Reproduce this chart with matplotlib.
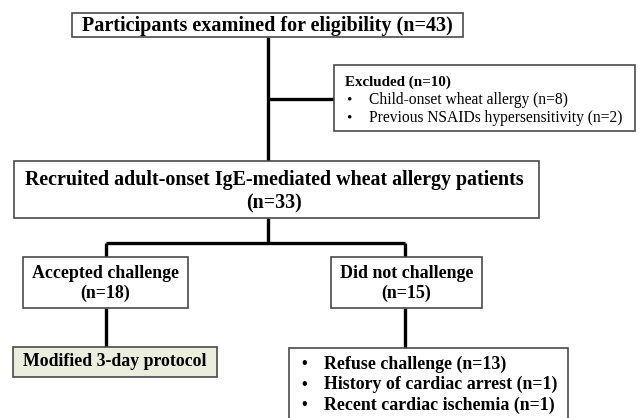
import matplotlib.pyplot as plt
from matplotlib.patches import Rectangle

# flowchart text
top_label = "Participants examined for eligibility (n=43)"
excl_title = "Excluded (n=10)"
excl_items = ["Child-onset wheat allergy (n=8)",
              "Previous NSAIDs hypersensitivity (n=2)"]
recruit_lines = ["Recruited adult-onset IgE-mediated wheat allergy patients", "(n=33)"]
accepted_lines = ["Accepted challenge", "(n=18)"]
declined_lines = ["Did not challenge", "(n=15)"]
protocol_label = "Modified 3-day protocol"
declined_items = ["Refuse challenge (n=13)",
                  "History of cardiac arrest (n=1)",
                  "Recent cardiac ischemia (n=1)"]

plt.rcParams['font.family'] = ['Liberation Serif', 'DejaVu Serif']

fig = plt.figure(figsize=(6.39, 4.18), dpi=100)
ax = fig.add_axes([0, 0, 1, 1])
ax.set_xlim(0, 639)
ax.set_ylim(418, 0)
ax.axis("off")

edge = "#4a4a4a"
lw_line = 2.4


def box(x0, y0, x1, y1, fc="white"):
    ax.add_patch(Rectangle((x0, y0), x1 - x0, y1 - y0, fc=fc, ec=edge, lw=1.2, zorder=2))


def line(xs, ys):
    ax.plot(xs, ys, color="black", lw=lw_line, solid_capstyle="butt", zorder=1)


# connectors
line([268, 268], [37, 161])
line([268, 334], [99, 99])
line([268, 268], [218, 243])
line([106, 405], [243, 243])
line([106, 106], [243, 257])
line([405, 405], [243, 257])
line([106, 106], [308, 347])
line([405, 405], [308, 348])

# top box
box(72, 13, 463, 37)
ax.text(267, 25.5, top_label, ha="center", va="center", fontsize=14.5, weight="bold", zorder=3)

# excluded box
box(334, 65, 635, 131)
ax.text(345, 82, excl_title, ha="left", va="center", fontsize=10.8, weight="bold", zorder=3)
for i, item in enumerate(excl_items):
    y = 100 + i * 18
    ax.text(346, y, "\u2022", ha="left", va="center", fontsize=11, zorder=3)
    ax.text(369, y, item, ha="left", va="center", fontsize=11.2, zorder=3)

# recruited box
box(14, 161, 539, 218)
for i, t in enumerate(recruit_lines):
    ax.text(274, 180 + i * 23, t, ha="center", va="center", fontsize=14.4, weight="bold", zorder=3)

# accepted / declined
box(23, 257, 188, 308)
box(331, 257, 482, 308)
for i, t in enumerate(accepted_lines):
    ax.text(105.5, 273 + i * 20, t, ha="center", va="center", fontsize=12.9, weight="bold", zorder=3)
for i, t in enumerate(declined_lines):
    ax.text(406.5, 273 + i * 20, t, ha="center", va="center", fontsize=12.9, weight="bold", zorder=3)

# protocol box
box(13, 347, 217, 377, fc="#ebeedd")
ax.text(115, 362, protocol_label, ha="center", va="center", fontsize=12.8, weight="bold", zorder=3)

# declined reasons box
box(289, 348, 568, 425)
for i, item in enumerate(declined_items):
    y = 364 + i * 20.5
    ax.text(301, y, "\u2022", ha="left", va="center", fontsize=11.5, weight="bold", zorder=3)
    ax.text(324, y, item, ha="left", va="center", fontsize=12.9, weight="bold", zorder=3)

fig.savefig("out.png", dpi=100)
